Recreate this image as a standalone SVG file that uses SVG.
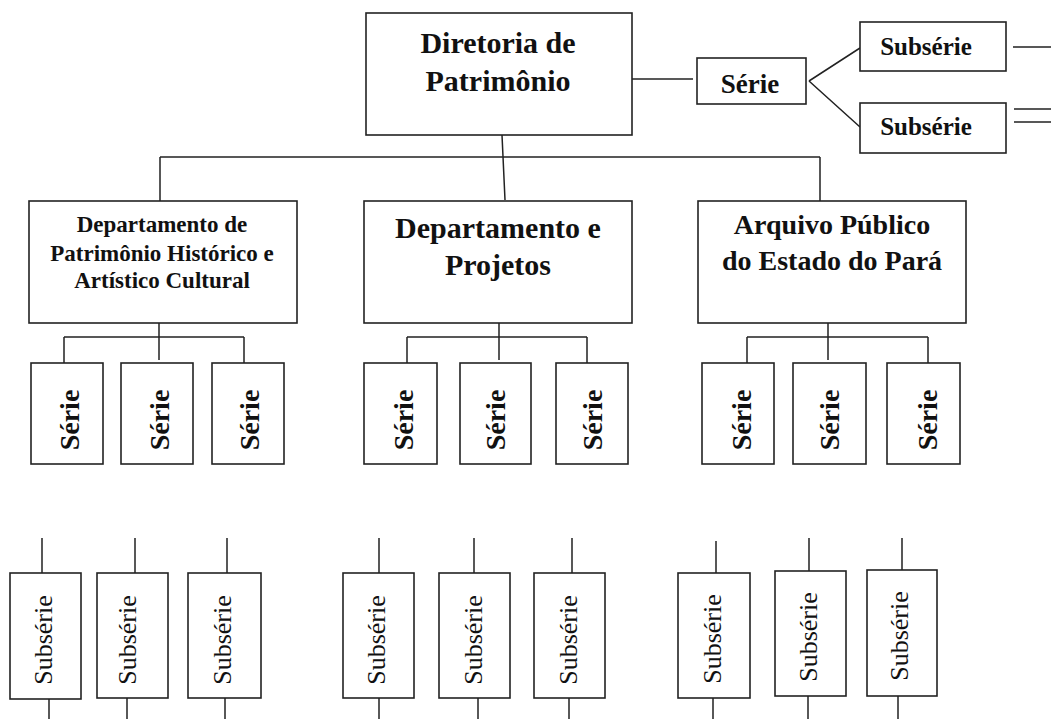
<svg xmlns="http://www.w3.org/2000/svg" width="1051" height="719" viewBox="0 0 1051 719">
<style>
.box{fill:#fff;stroke:#222;stroke-width:1.6}
.ln{fill:none;stroke:#222;stroke-width:1.5}
.t{font-family:"Liberation Serif","Times New Roman",serif;font-weight:bold;fill:#111;text-anchor:middle}
.r{font-family:"Liberation Serif","Times New Roman",serif;font-weight:normal;fill:#111;text-anchor:middle;font-size:26px}
.s{font-size:28px}
</style>
<rect width="1051" height="719" fill="#fff"/>
<g id="connectors">
<path class="ln" d="M632,79 H693"/>
<path class="ln" d="M809,81 L860,48 M809,81 L860,127"/>
<path class="ln" d="M1013,47 H1051 M1014,109 H1051 M1014,122 H1051"/>
<path class="ln" d="M502,135 L505,200 M160,157 H820 M160,157 V201 M820,157 V201"/>
<path class="ln" d="M159,323 V360 M64,337 H244 M64,337 V363 M244,337 V363"/>
<path class="ln" d="M499,323 V360 M407,337 H587 M407,337 V363 M587,337 V363"/>
<path class="ln" d="M828,323 V360 M747,337 H928 M747,337 V363 M928,337 V363"/>
<path class="ln" d="M42,538 V573 M49,699 V719 M135,538 V573 M127,698 V719 M227,538 V573 M225,698 V719"/>
<path class="ln" d="M379,538 V573 M379,698 V719 M474,538 V573 M478,698 V719 M572,538 V573 M569,698 V719"/>
<path class="ln" d="M716,541 V573 M713,698 V719 M809,538 V571 M808,696 V719 M902,538 V570 M898,696 V719"/>
</g>
<g id="diretoria"><rect class="box" x="366" y="13" width="266" height="122"/>
<text class="t" x="498" y="53" font-size="30">Diretoria de</text><text class="t" x="498" y="91" font-size="30">Patrimônio</text></g>
<g id="serie-top"><rect class="box" x="697" y="58" width="109" height="46"/><text class="t" x="750" y="93" font-size="27">Série</text></g>
<g id="subserie-top1"><rect class="box" x="860" y="22" width="146" height="49"/><text class="t" x="926" y="55" font-size="25">Subsérie</text></g>
<g id="subserie-top2"><rect class="box" x="860" y="103" width="146" height="50"/><text class="t" x="926" y="135" font-size="25">Subsérie</text></g>
<g id="dept-historico"><rect class="box" x="29" y="201" width="268" height="122"/>
<text class="t" x="162" y="232" font-size="23">Departamento de</text><text class="t" x="162" y="261" font-size="23">Patrimônio Histórico e</text><text class="t" x="162" y="288" font-size="23">Artístico Cultural</text></g>
<g id="dept-projetos"><rect class="box" x="364" y="201" width="268" height="122"/>
<text class="t" x="498" y="238" font-size="30">Departamento e</text><text class="t" x="498" y="275" font-size="30">Projetos</text></g>
<g id="arquivo"><rect class="box" x="698" y="201" width="268" height="122"/>
<text class="t" x="832" y="234" font-size="28">Arquivo Público</text><text class="t" x="832" y="270" font-size="28">do Estado do Pará</text></g>
<g id="serie-1"><rect class="box" x="31" y="363" width="72" height="101"/><text class="t s" transform="translate(79,420) rotate(-90)">Série</text></g>
<g id="serie-2"><rect class="box" x="121" y="363" width="72" height="101"/><text class="t s" transform="translate(169,420) rotate(-90)">Série</text></g>
<g id="serie-3"><rect class="box" x="212" y="363" width="72" height="101"/><text class="t s" transform="translate(259,420) rotate(-90)">Série</text></g>
<g id="serie-4"><rect class="box" x="364" y="363" width="73" height="101"/><text class="t s" transform="translate(413,420) rotate(-90)">Série</text></g>
<g id="serie-5"><rect class="box" x="460" y="363" width="71" height="101"/><text class="t s" transform="translate(505,420) rotate(-90)">Série</text></g>
<g id="serie-6"><rect class="box" x="556" y="363" width="72" height="101"/><text class="t s" transform="translate(602,420) rotate(-90)">Série</text></g>
<g id="serie-7"><rect class="box" x="702" y="363" width="72" height="101"/><text class="t s" transform="translate(751,420) rotate(-90)">Série</text></g>
<g id="serie-8"><rect class="box" x="793" y="363" width="73" height="101"/><text class="t s" transform="translate(839,420) rotate(-90)">Série</text></g>
<g id="serie-9"><rect class="box" x="887" y="363" width="73" height="101"/><text class="t s" transform="translate(937,420) rotate(-90)">Série</text></g>
<g id="subserie-1"><rect class="box" x="10" y="573" width="71" height="126"/><text class="r" transform="translate(52,640) rotate(-90)">Subsérie</text></g>
<g id="subserie-2"><rect class="box" x="97" y="573" width="71" height="125"/><text class="r" transform="translate(136,640) rotate(-90)">Subsérie</text></g>
<g id="subserie-3"><rect class="box" x="188" y="573" width="73" height="125"/><text class="r" transform="translate(231,640) rotate(-90)">Subsérie</text></g>
<g id="subserie-4"><rect class="box" x="343" y="573" width="71" height="125"/><text class="r" transform="translate(385,640) rotate(-90)">Subsérie</text></g>
<g id="subserie-5"><rect class="box" x="439" y="573" width="71" height="125"/><text class="r" transform="translate(482,640) rotate(-90)">Subsérie</text></g>
<g id="subserie-6"><rect class="box" x="534" y="573" width="71" height="125"/><text class="r" transform="translate(577,640) rotate(-90)">Subsérie</text></g>
<g id="subserie-7"><rect class="box" x="678" y="573" width="72" height="125"/><text class="r" transform="translate(721,639) rotate(-90)">Subsérie</text></g>
<g id="subserie-8"><rect class="box" x="775" y="571" width="71" height="125"/><text class="r" transform="translate(817,637) rotate(-90)">Subsérie</text></g>
<g id="subserie-9"><rect class="box" x="867" y="570" width="70" height="126"/><text class="r" transform="translate(908,636) rotate(-90)">Subsérie</text></g>
</svg>
